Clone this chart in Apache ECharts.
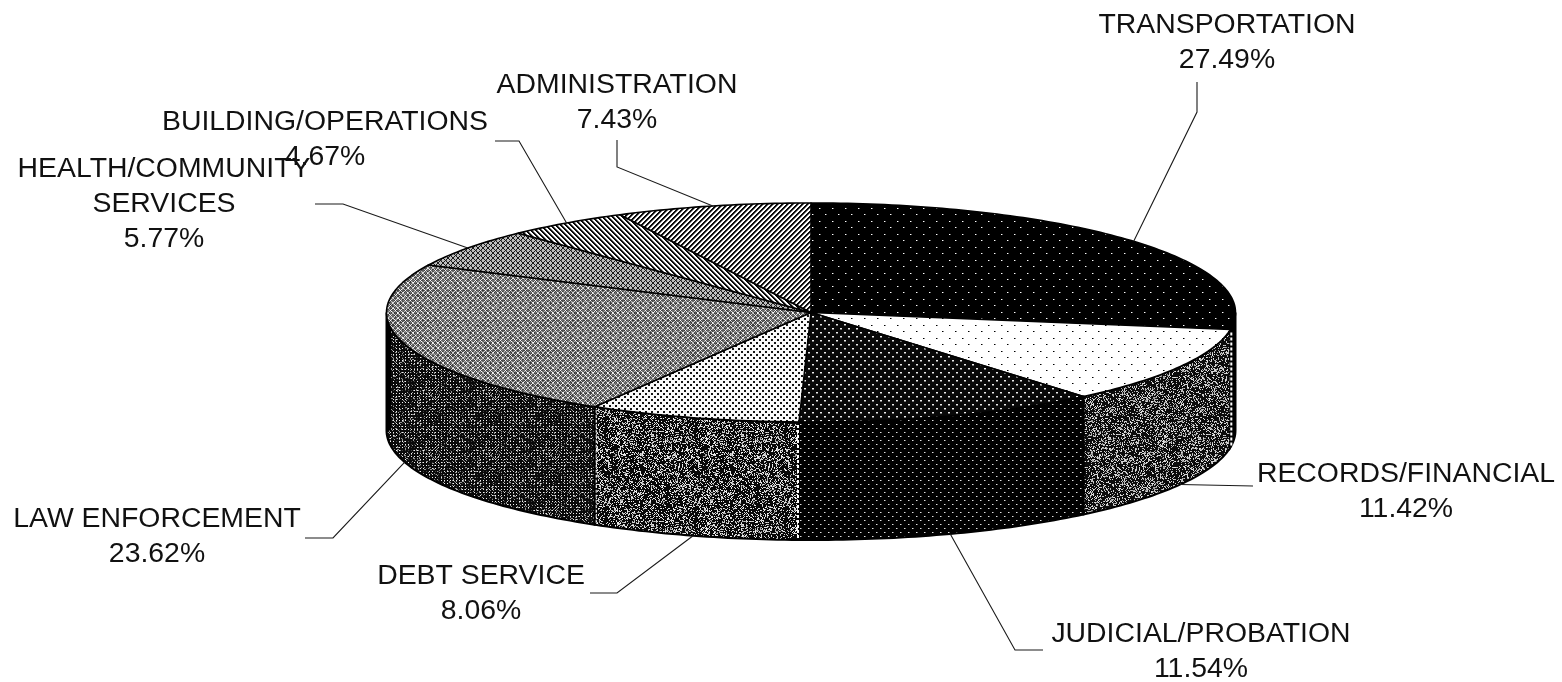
<!DOCTYPE html>
<html>
<head>
<meta charset="utf-8">
<style>html,body{margin:0;padding:0;background:#fff}#c{width:1562px;height:682px}</style>
<script src="https://cdn.jsdelivr.net/npm/echarts@6/dist/echarts.min.js"></script>
</head>
<body>
<div id="c"></div>
<script>
// ---- chart values ----
const categories = ['TRANSPORTATION','RECORDS/FINANCIAL','JUDICIAL/PROBATION','DEBT SERVICE','LAW ENFORCEMENT','HEALTH/COMMUNITY\nSERVICES','BUILDING/OPERATIONS','ADMINISTRATION'];
const shares = [27.49,11.42,11.54,8.06,23.62,5.77,4.67,7.43];

// ---- layout of the drawing ----
const CX = 811, CY = 312.5, RX = 424.5, RY = 109.5, DEPTH = 118;
const labelCentres = [[1227,43],[1406,491.5],[1201,652],[481,594],[157,537],[164,204],[325,140],[617,102.5]];
const leaderElbows = [
  [[1197,82],[1197,112]],
  [[1253,486]],
  [[1043,650],[1015,650]],
  [[590,593],[617,593]],
  [[305,538],[333,538]],
  [[315,204],[343,204]],
  [[495,141],[519,141]],
  [[617,140],[617,167]]
];

// ---- textures ----
function tile(w, h, fn) {
  const c = document.createElement('canvas'); c.width = w; c.height = h;
  const g = c.getContext('2d');
  for (let y = 0; y < h; y++) for (let x = 0; x < w; x++) {
    const v = Math.round(fn(x, y));
    g.fillStyle = 'rgb(' + v + ',' + v + ',' + v + ')';
    g.fillRect(x, y, 1, 1);
  }
  return { image: c, repeat: 'repeat' };
}
function grain(x, y) { const s = Math.sin(x * 12.9898 + y * 78.233) * 43758.5453; return s - Math.floor(s); }
const mod = (a, n) => ((a % n) + n) % n;

const topFills = [
  tile(13, 13, (x, y) => ((x === 0 && y === 0) || (x === 6 && y === 6)) ? 255 : ((x === 1 && y === 0) || (x === 7 && y === 6)) ? 110 : 0),
  tile(13, 13, (x, y) => ((x === 0 && y === 0) || (x === 6 && y === 6)) ? 0 : ((x === 1 && y === 0) || (x === 7 && y === 6)) ? 130 : 255),
  tile(8, 8, (x, y) => ((x < 2 && y < 1) || (x >= 4 && x < 6 && y >= 4 && y < 5)) ? 235 : ((x < 2 && y === 1) || (x >= 4 && x < 6 && y === 5)) ? 120 : 8),
  tile(6, 6, (x, y) => ((x < 2 && y < 2) ) || (x >= 3 && x < 5 && y >= 3 && y < 5) ? 20 : 250),
  tile(30, 30, (x, y) => {
    const a = mod(x + y, 5), b = mod(x - y, 5);
    if (a === 0 && b === 0) return 255;
    if (a === 0 || b === 0) return 255 - 90 * grain(x, y);
    return 50 + 80 * grain(x + 3, y);
  }),
  tile(5, 5, (x, y) => {
    const a = mod(x + y, 5), b = mod(x - y, 5);
    if (a === 0 || b === 0) return 25;
    if (a === 1 && b === 1) return 90;
    return 190;
  }),
  tile(10, 10, (x, y) => { const d = mod(x - y, 5); return d < 2 ? 10 : d === 2 ? 130 : 255; }),
  tile(10, 10, (x, y) => { const d = mod(x + y, 5); return d < 2 ? 10 : d === 2 ? 130 : 255; })
];
const wallFills = [
  tile(13, 13, (x, y) => ((x === 0 && y === 0) || (x === 6 && y === 6)) ? 60 : 0),
  tile(90, 90, (x, y) => { const g = grain(x, y), b = grain(Math.floor(x / 7), Math.floor(y / 7)); return g > 0.82 - b * 0.28 ? 235 * g : 12; }),
  tile(8, 8, (x, y) => ((x < 1 && y < 1) || (x === 4 && y === 4)) ? 225 : ((x === 1 && y === 0) || (x === 5 && y === 4)) ? 110 : 0),
  tile(90, 90, (x, y) => { const g = grain(x + 7, y + 3), b = grain(Math.floor(x / 7), Math.floor(y / 7)); return g > 0.83 - b * 0.28 ? 250 * g : 8; }),
  tile(60, 60, (x, y) => {
    const g = grain(x + 2, y + 9);
    if (x % 3 === 0 && y % 3 === 0) return g > 0.3 ? 240 : 60;
    return g > 0.86 ? 150 : 10;
  }),
  tile(4, 4, () => 60), tile(4, 4, () => 60), tile(4, 4, () => 60)
];

// ---- geometry derived from the values ----
const total = shares.reduce((a, b) => a + b, 0);
const startAngles = []; let running = 0;
shares.forEach(v => { startAngles.push(running / total * 360); running += v; });
const rimPoint = (deg, dy) => {
  const t = deg * Math.PI / 180;
  return [CX + RX * Math.sin(t), CY - RY * Math.cos(t) + (dy || 0)];
};
function arc(a, b, dy) {
  const n = Math.max(2, Math.ceil(Math.abs(b - a)));
  const pts = [];
  for (let i = 0; i <= n; i++) pts.push(rimPoint(a + (b - a) * i / n, dy));
  return pts;
}

function renderSlice(params, api) {
  const i = api.value(0), value = api.value(1);
  const a0 = startAngles[i], a1 = a0 + value / total * 360, mid = (a0 + a1) / 2;
  const kids = [];
  // wall, only where the rim faces the viewer
  const w0 = Math.max(a0, 90), w1 = Math.min(a1, 270);
  if (w1 > w0) {
    kids.push({ type: 'polygon', shape: { points: arc(w0, w1, 0).concat(arc(w1, w0, DEPTH)) },
      style: { fill: wallFills[i], stroke: '#000', lineWidth: 2 } });
    if (i === 1 || i === 3) {
      const e = rimPoint(w0), f = i === 3 ? rimPoint(w1) : null;
      kids.push({ type: 'line', shape: { x1: e[0] + (i === 1 ? 1 : -1), y1: e[1] + 3, x2: e[0] + (i === 1 ? 1 : -1), y2: e[1] + DEPTH - 2 },
        style: { stroke: '#fff', lineWidth: 2, lineDash: [3, 2] } });
      if (f) kids.push({ type: 'line', shape: { x1: f[0] + 1, y1: f[1] + 3, x2: f[0] + 1, y2: f[1] + DEPTH - 2 },
        style: { stroke: '#fff', lineWidth: 2, lineDash: [3, 2] } });
    }
    if (a0 < 270 && a1 > 270) {
      const e = rimPoint(270);
      kids.push({ type: 'line', shape: { x1: e[0] + 2, y1: e[1], x2: e[0] + 2, y2: e[1] + DEPTH },
        style: { stroke: '#000', lineWidth: 5 } });
    }
  }
  // top face
  kids.push({ type: 'polygon', shape: { points: [[CX, CY]].concat(arc(a0, a1, 0)) },
    style: { fill: topFills[i], stroke: '#000', lineWidth: 1.6, lineJoin: 'round' } });
  // leader: elbows from the label, then to the middle of the slice's visible rim
  const front = mid > 90 && mid < 270;
  const anchor = rimPoint(mid, front ? DEPTH : 0);
  kids.push({ type: 'polyline', shape: { points: leaderElbows[i].concat([anchor]) },
    style: { fill: null, stroke: '#1a1a1a', lineWidth: 1.1 } });
  return { type: 'group', children: kids };
}

function renderLabel(params, api) {
  const i = api.value(0), value = api.value(1);
  return { type: 'text', style: {
    x: labelCentres[i][0], y: labelCentres[i][1],
    text: categories[i] + '\n' + value.toFixed(2) + '%',
    fill: '#111', font: '28.4px "Liberation Sans", Arial, sans-serif',
    lineHeight: 35, align: 'center', verticalAlign: 'middle'
  } };
}

const rows = shares.map((v, i) => [i, v]);
const chart = echarts.init(document.getElementById('c'), null, { renderer: 'canvas' });
chart.setOption({
  animation: false,
  backgroundColor: '#fff',
  series: [
    { type: 'custom', coordinateSystem: 'none', data: rows, renderItem: renderSlice, silent: true, z: 2 },
    { type: 'custom', coordinateSystem: 'none', data: rows, renderItem: renderLabel, silent: true, z: 3 }
  ]
});
</script>
</body>
</html>
